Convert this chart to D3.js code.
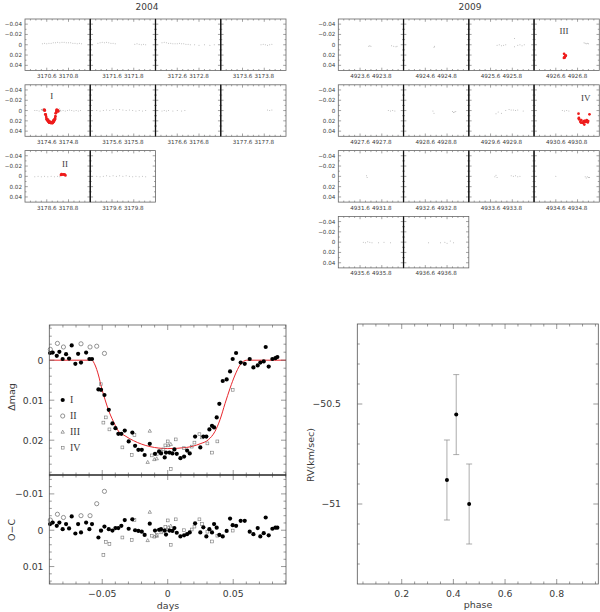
<!DOCTYPE html>
<html><head><meta charset="utf-8">
<script src="https://cdn.jsdelivr.net/npm/d3@7"></script>
<style>body{margin:0;background:#fff}</style></head>
<body><svg id="c" width="600" height="612"></svg>
<script>
// ---------- DATA ----------
const days2004 = [3170,3171,3172,3173,3174,3175,3176,3177,3178,3179];
const days2009 = [4923,4924,4925,4926,4927,4928,4929,4930,4931,4932,4933,4934,4935,4936];
// gray out-of-transit points per night: [fraction of day, delta mag]
const gray2004 = [
 [[.56,-.002],[.58,-.003],[.60,-.002],[.62,-.003],[.64,-.003],[.66,-.004],[.68,-.004],[.70,-.005],[.72,-.004],[.74,-.005],[.76,-.005],[.78,-.004],[.80,-.004],[.82,-.004],[.84,-.003],[.86,-.003],[.88,-.002],[.90,-.003],[.92,-.002]],
 [[.47,-.003],[.49,-.004],[.51,-.005],[.53,-.004],[.55,-.005],[.57,-.004],[.59,-.003],[.61,-.003],[.63,-.002],[.81,-.001],[.83,-.002],[.85,-.001],[.87,0],[.89,-.001],[.91,0]],
 [[.46,-.004],[.48,-.005],[.50,-.004],[.52,-.003],[.54,-.003],[.56,-.002],[.58,-.002],[.60,-.002],[.62,-.003],[.64,-.002],[.66,-.002],[.68,-.001],[.70,-.001],[.72,0],[.76,0],[.80,.001],[.85,0],[.90,.001],[.94,0]],
 [[.77,0],[.79,-.001],[.81,0],[.83,.001],[.85,0],[.87,-.001]],
 [[.49,0],[.51,0],[.53,.001],[.73,.001],[.75,0],[.77,.001],[.79,0],[.81,-.001],[.83,0],[.85,.001],[.87,0],[.89,.001],[.91,0]],
 [[.46,0],[.49,.001],[.52,0],[.55,-.001],[.58,0],[.61,-.002],[.64,-.001],[.67,-.002],[.70,-.001],[.73,0],[.76,-.001],[.79,0],[.82,.001],[.85,0],[.88,.001],[.91,0]],
 [[.46,.001],[.48,0],[.50,.001],[.52,0],[.56,.001],[.60,0],[.64,.001],[.67,0]],
 [[.83,-.001],[.85,0],[.87,-.001]],
 [[.49,.001],[.52,0],[.55,.001],[.58,0],[.61,.001],[.64,0],[.67,.001],[.70,0],[.72,.001]],
 [[.46,0],[.49,.001],[.52,0],[.55,-.001],[.58,0],[.61,-.001],[.64,0],[.67,-.001],[.70,0],[.73,-.001],[.76,0],[.79,.001],[.82,0],[.85,.001],[.88,0],[.91,.001]]
];
const gray2009 = [
 [[.68,.003],[.69,.002],[.70,.003],[.89,.002],[.91,.003],[.93,.004],[.94,.003]],
 [[.68,.005],[.685,.003]],
 [[.66,.001],[.68,0],[.70,.002],[.72,.001],[.74,0],[.82,-.012],[.82,.004],[.85,.001],[.87,0],[.89,.002],[.91,0]],
 [[.86,-.004],[.87,-.003],[.88,-.002],[.89,-.003],[.90,-.002]],
 [[.86,0],[.88,.001],[.90,0],[.92,.001]],
 [[.67,.001],[.68,.005],[.85,.002],[.86,.004],[.87,.003],[.88,.002]],
 [[.65,.006],[.67,.003],[.70,.005],[.74,0],[.77,-.002],[.79,-.001],[.81,-.001],[.83,0],[.85,-.001],[.90,.001]],
 [[.66,0],[.68,.001],[.70,0],[.72,.001]],
 [[.66,-.001],[.665,.002]],
 [],
 [[.64,.001],[.65,-.002],[.66,.002],[.79,-.001],[.81,0],[.83,-.001],[.85,.001],[.87,0]],
 [[.60,0],[.87,.001],[.88,.003],[.89,.001],[.90,.002],[.91,.002]],
 [[.63,0],[.65,.001],[.67,-.001],[.69,0],[.71,.001],[.77,.001],[.82,0],[.88,.001]],
 [[.63,.001],[.74,.001],[.78,0],[.80,.002],[.83,-.002],[.86,.001]]
];
// transit events: label, mid-time (HJD-2450000), half-width of the red-highlighted window (days)
const eventLabels = ["I","II","III","IV"];
const eventMid = [3174.64, 3178.82, 4926.69, 4930.86];
const eventWin = [0.066, 0.1, 0.1, 0.1];

// folded light curves (days from mid-transit, delta mag, O-C)
const lcT_I = [-0.0898,-0.0878,-0.0847,-0.0827,-0.0802,-0.0776,-0.0753,-0.0733,-0.0705,-0.0684,
 -0.0662,-0.0623,-0.0598,-0.0578,-0.0529,-0.0509,-0.0483,-0.0450,-0.0422,-0.0399,
 -0.0377,-0.0354,-0.0328,-0.0298,-0.0270,-0.0249,-0.0224,-0.0198,-0.0176,-0.0137,
 -0.0097,-0.0066,-0.0051,-0.0023,-0.0013,0.0013,0.0036,0.0051,0.0069,0.0097,
 0.0125,0.0148,0.0168,0.0209,0.0249,0.0272,0.0295,0.0318,0.0338,0.0354,
 0.0374,0.0394,0.0420,0.0450,0.0476,0.0496,0.0522,0.0557,0.0588,0.0626,
 0.0654,0.0687,0.0707,0.0733,0.0748,0.0771,0.0799,0.0822,0.0837];
const lcM_I = [-0.0018,-0.0019,-0.0011,-0.0021,-0.0003,-0.0015,-0.0004,-0.0037,0.0009,-0.0016,
 0.0006,-0.0019,-0.0003,-0.0003,0.0073,0.0074,0.0087,0.0124,0.0158,0.0170,
 0.0184,0.0184,0.0176,0.0203,0.0181,0.0214,0.0224,0.0224,0.0237,0.0209,
 0.0234,0.0228,0.0233,0.0243,0.0231,0.0231,0.0233,0.0223,0.0234,0.0245,
 0.0241,0.0226,0.0233,0.0191,0.0218,0.0191,0.0191,0.0173,0.0164,0.0168,
 0.0143,0.0109,0.0052,0.0048,0.0028,-0.0003,-0.0018,0.0006,0.0009,-0.0003,
 0.0018,0.0013,0.0006,0.0003,-0.0033,0.0016,-0.0003,-0.0005,-0.0008];
const ocM_I = [-0.0017,-0.0021,-0.0012,-0.0021,-0.0003,-0.0017,-0.0005,-0.0038,0.0009,-0.0017,
 0.0006,-0.0021,-0.0003,-0.0017,0.0020,0.0001,-0.0010,-0.0003,0.0001,-0.0006,
 -0.0006,-0.0012,-0.0028,-0.0004,-0.0030,0.0000,0.0002,0.0004,0.0013,-0.0018,
 0.0001,-0.0001,-0.0003,0.0001,0.0012,0.0001,0.0002,-0.0006,0.0007,0.0017,
 0.0014,0.0011,0.0006,-0.0019,0.0006,-0.0008,0.0017,-0.0003,0.0006,-0.0017,
 -0.0007,0.0013,0.0017,0.0002,-0.0032,-0.0014,-0.0012,-0.0026,-0.0026,0.0004,
 0.0011,-0.0006,0.0017,0.0008,-0.0035,0.0014,-0.0004,-0.0007,-0.0007];
const lcT_II = [-0.0896,-0.0842,-0.0796,-0.0662,-0.0593,-0.0542,-0.0483];
const lcM_II = [-0.0027,-0.0042,-0.0033,-0.0041,-0.0033,-0.0035,-0.0017];
const ocM_II = [-0.0028,-0.0044,-0.0035,-0.0040,-0.0040,-0.0073,-0.0107];
const lcT_III = [-0.0153,-0.0137,-0.0102,-0.0084,-0.0050,0.0005,0.0023];
const lcM_III = [0.0255,0.0177,0.0248,0.0246,0.0228,0.0213,0.0210];
const ocM_III = [0.0028,-0.0050,0.0018,0.0016,0.0006,-0.0008,-0.0012];
const lcT_IV = [-0.0511,-0.0491,-0.0473,-0.0445,-0.0346,-0.0275,-0.0254,-0.0122,-0.0084,-0.0033,
 -0.0018,0.0000,0.0023,0.0061,0.0125,0.0183,0.0204,0.0242,0.0262,0.0303,0.0338,0.0379,0.0496];
const lcM_IV = [0.0060,0.0156,0.0143,0.0173,0.0218,0.0237,0.0187,0.0238,0.0235,0.0223,
 0.0213,0.0203,0.0272,0.0198,0.0220,0.0216,0.0206,0.0185,0.0193,0.0208,0.0231,0.0203,0.0074];
const ocM_IV = [0.0001,0.0068,0.0032,0.0038,0.0020,0.0027,-0.0028,0.0015,0.0013,0.0001,
 -0.0009,-0.0027,0.0040,-0.0030,0.0000,-0.0002,-0.0010,-0.0030,-0.0017,0.0004,0.0031,0.0015,0.0001];
// transit model
const modelT = [-0.0904,-0.058,-0.0555,-0.0529,-0.0504,-0.0478,-0.0453,-0.0415,-0.0377,-0.0326,-0.0262,-0.0135,0,
 0.0145,0.0247,0.031,0.0361,0.0399,0.0438,0.0476,0.0514,0.0552,0.0603,0.0903];
const modelM = [0,0,0.0012,0.0037,0.0070,0.0099,0.0124,0.0153,0.0177,0.0189,0.0201,0.0216,0.0221,
 0.0218,0.0209,0.0199,0.0178,0.0149,0.0108,0.0070,0.0037,0.0012,0,0];
// radial velocities
const rvPhase = [0.375, 0.411, 0.461];
const rvVal = [-50.88, -50.553, -51.0];
const rvErr = [0.2, 0.2, 0.2];

// ---------- DRAWING ----------
const svg = d3.select('#c');
const FONT = 'DejaVu Sans', SERIF = 'Liberation Serif';
const TXT = '#3a3a3a', FRAME = '#555';

function ticks4(g, x, y, xMaj, xMin, yMaj, yMin, L, l, col) {
  const [xa, xb] = x.range(); const xl = Math.min(xa,xb), xr = Math.max(xa,xb);
  const [ya, yb] = y.range(); const yt = Math.min(ya,yb), ybm = Math.max(ya,yb);
  const seg = [];
  xMaj.forEach(v => { seg.push([x(v), ybm, x(v), ybm - L]); seg.push([x(v), yt, x(v), yt + L]); });
  xMin.forEach(v => { seg.push([x(v), ybm, x(v), ybm - l]); seg.push([x(v), yt, x(v), yt + l]); });
  yMaj.forEach(v => { seg.push([xl, y(v), xl + L, y(v)]); seg.push([xr, y(v), xr - L, y(v)]); });
  yMin.forEach(v => { seg.push([xl, y(v), xl + l, y(v)]); seg.push([xr, y(v), xr - l, y(v)]); });
  g.append('g').selectAll('line').data(seg).join('line')
    .attr('x1', d => d[0]).attr('y1', d => d[1]).attr('x2', d => d[2]).attr('y2', d => d[3])
    .attr('stroke', col || FRAME).attr('stroke-width', 0.6);
  g.append('rect').attr('x', xl).attr('y', yt).attr('width', xr - xl).attr('height', ybm - yt)
    .attr('fill', 'none').attr('stroke', col || FRAME).attr('stroke-width', 0.8);
}
const rng = (a, b, s) => d3.range(Math.round((b - a) / s) + 1).map(i => +(a + i * s).toFixed(6));

// ---- top grids ----
const PW = 65.25, PH = 51.5, ROWSTEP = 65.8;
function topGrid(x0, days, grays, year, yearX) {
  svg.append('text').attr('x', yearX).attr('y', 9.5).attr('text-anchor', 'middle')
    .attr('font-family', FONT).attr('font-size', 9).attr('fill', TXT).text(year);
  days.forEach((day, i) => {
    const col = i % 4, row = Math.floor(i / 4);
    const left = x0 + col * PW, top = 19 + row * ROWSTEP;
    const x = d3.scaleLinear().domain([day + 0.4, day + 1.0]).range([left, left + PW]);
    const y = d3.scaleLinear().domain([-0.05, 0.05]).range([top, top + PH]);
    const g = svg.append('g');
    g.selectAll('circle.g').data(grays[i]).join('circle')
      .attr('cx', d => x(day + d[0])).attr('cy', d => y(d[1])).attr('r', 0.5).attr('fill', '#b0b0b0');
    eventMid.forEach((tc, k) => {
      if (Math.floor(tc) !== day) return;
      const T = [lcT_I, lcT_II, lcT_III, lcT_IV][k], M = [lcM_I, lcM_II, lcM_III, lcM_IV][k];
      const pts = T.map((t, j) => [t, M[j]]);
      g.selectAll('circle.o' + k).data(pts.filter(d => Math.abs(d[0]) > eventWin[k])).join('circle')
        .attr('cx', d => x(tc + d[0])).attr('cy', d => y(d[1])).attr('r', 0.5).attr('fill', '#b0b0b0');
      g.selectAll('circle.r' + k).data(pts.filter(d => Math.abs(d[0]) <= eventWin[k])).join('circle')
        .attr('cx', d => x(tc + d[0])).attr('cy', d => y(d[1])).attr('r', 1.35).attr('fill', '#ee1c1c');
      const lx = [51.7 - 25, 65 - 25, 563.3 - 533.3, 585 - 533.3][k];
      g.append('text').attr('x', left + lx).attr('y', top + (k % 2 ? 16 : 14.5)).attr('text-anchor', 'middle')
        .attr('font-family', SERIF).attr('font-size', 9).attr('fill', TXT).text(eventLabels[k]);
    });
    ticks4(g, x, y, [day + 0.6, day + 0.8], rng(day + 0.45, day + 0.95, 0.05).filter(v => Math.abs(v - day - 0.6) > 1e-6 && Math.abs(v - day - 0.8) > 1e-6),
      [-0.04, -0.02, 0, 0.02, 0.04], [-0.03, -0.01, 0.01, 0.03], 2.8, 1.5, '#666');
    [0.6, 0.8].forEach(f => g.append('text').attr('x', x(day + f)).attr('y', top + PH + 7.5)
      .attr('text-anchor', 'middle').attr('font-family', FONT).attr('font-size', 5.6).attr('fill', TXT)
      .text((day + f).toFixed(1)));
    if (col === 0) {
      [-0.04, -0.02, 0, 0.02, 0.04].forEach(v => g.append('text').attr('x', left - 3).attr('y', y(v) + 2)
        .attr('text-anchor', 'end').attr('font-family', FONT).attr('font-size', 5.6).attr('fill', TXT)
        .text(v === 0 ? '0' : (v < 0 ? '\u22120' + (-v).toFixed(2).slice(1) : v.toFixed(2))));
    }
  });
  days.forEach((day, i) => {
    const col = i % 4, row = Math.floor(i / 4);
    if (col === 0) return;
    const left = x0 + col * PW, top = 19 + row * ROWSTEP;
    svg.append('line').attr('x1', left).attr('x2', left).attr('y1', top).attr('y2', top + PH)
      .attr('stroke', '#111').attr('stroke-width', 1.3);
  });
}
topGrid(25, days2004, gray2004, '2004', 147);
topGrid(338.3, days2009, gray2009, '2009', 470);

// ---- bottom-left light curve ----
const xL = d3.scaleLinear().domain([-0.0904, 0.0903]).range([49.3, 286]);
const yLC = d3.scaleLinear().domain([-0.0088, 0.0287]).range([325, 475]);
const yOC = d3.scaleLinear().domain([-0.0152, 0.0148]).range([475, 584]);
const gLC = svg.append('g'), gOC = svg.append('g');

function symbols(g, T, V, y, kind) {
  const data = T.map((t, i) => [xL(t), y(V[i])]);
  if (kind === 'filled') g.append('g').selectAll('circle').data(data).join('circle')
    .attr('cx', d => d[0]).attr('cy', d => d[1]).attr('r', 2.1).attr('fill', '#000');
  if (kind === 'open') g.append('g').selectAll('circle').data(data).join('circle')
    .attr('cx', d => d[0]).attr('cy', d => d[1]).attr('r', 2.1).attr('fill', 'none').attr('stroke', '#666').attr('stroke-width', 0.7);
  if (kind === 'tri') g.append('g').selectAll('path').data(data).join('path')
    .attr('d', d => `M${d[0]},${d[1] - 1.8}L${d[0] + 1.7},${d[1] + 1.2}L${d[0] - 1.7},${d[1] + 1.2}Z`)
    .attr('fill', 'none').attr('stroke', '#666').attr('stroke-width', 0.6);
  if (kind === 'sq') g.append('g').selectAll('rect').data(data).join('rect')
    .attr('x', d => d[0] - 1.4).attr('y', d => d[1] - 1.4).attr('width', 2.8).attr('height', 2.8)
    .attr('fill', 'none').attr('stroke', '#777').attr('stroke-width', 0.6);
}
gLC.append('path').datum(modelT.map((t, i) => [t, modelM[i]]))
  .attr('d', d3.line().x(d => xL(d[0])).y(d => yLC(d[1])).curve(d3.curveMonotoneX))
  .attr('fill', 'none').attr('stroke', '#e8262c').attr('stroke-width', 1);
symbols(gLC, lcT_IV, lcM_IV, yLC, 'sq');
symbols(gLC, lcT_III, lcM_III, yLC, 'tri');
symbols(gLC, lcT_II, lcM_II, yLC, 'open');
symbols(gLC, lcT_I, lcM_I, yLC, 'filled');
symbols(gOC, lcT_IV, ocM_IV, yOC, 'sq');
symbols(gOC, lcT_III, ocM_III, yOC, 'tri');
symbols(gOC, lcT_II, ocM_II, yOC, 'open');
symbols(gOC, lcT_I, ocM_I, yOC, 'filled');

const xMajL = [-0.05, 0, 0.05], xMinL = rng(-0.09, 0.09, 0.01).filter(v => Math.abs(v % 0.05) > 1e-6);
ticks4(gLC, xL, yLC, xMajL, xMinL, [0, 0.01, 0.02], rng(-0.008, 0.028, 0.002).filter(v => Math.abs(Math.round(v * 100) - v * 100) > 1e-6), 5, 2.5);
ticks4(gOC, xL, yOC, xMajL, xMinL, [-0.01, 0, 0.01], rng(-0.014, 0.014, 0.002).filter(v => Math.abs(Math.round(v * 100) - v * 100) > 1e-6), 5, 2.5);
svg.append('line').attr('x1', 49.3).attr('x2', 286).attr('y1', 475).attr('y2', 475).attr('stroke', '#222').attr('stroke-width', 1);

const lab = (x, y, t, anchor, size, rot, fam) => {
  const e = svg.append('text').attr('x', x).attr('y', y).attr('text-anchor', anchor || 'middle')
    .attr('font-family', fam || FONT).attr('font-size', size || 9.3).attr('fill', TXT).text(t);
  if (rot) e.attr('transform', `rotate(-90,${x},${y})`);
  return e;
};
[[0, '0'], [0.01, '0.01'], [0.02, '0.02']].forEach(([v, t]) => lab(43.5, yLC(v) + 3.3, t, 'end'));
[[-0.01, '\u22120.01'], [0, '0'], [0.01, '0.01']].forEach(([v, t]) => lab(43.5, yOC(v) + 3.3, t, 'end'));
[[-0.05, '\u22120.05'], [0, '0'], [0.05, '0.05']].forEach(([v, t]) => lab(xL(v), 596.5, t));
lab(168, 609, 'days', 'middle', 9.5);
lab(15, 397, '\u0394mag', 'middle', 9.5, true);
lab(15, 530, 'O\u2212C', 'middle', 9.5, true);
const legY = [400, 416, 432, 447.7];
const legX = 62.7;
svg.append('circle').attr('cx', legX).attr('cy', legY[0]).attr('r', 2.1).attr('fill', '#000');
svg.append('circle').attr('cx', legX).attr('cy', legY[1]).attr('r', 2.1).attr('fill', 'none').attr('stroke', '#666').attr('stroke-width', 0.7);
svg.append('path').attr('d', `M${legX},${legY[2] - 1.8}L${legX + 1.7},${legY[2] + 1.2}L${legX - 1.7},${legY[2] + 1.2}Z`).attr('fill', 'none').attr('stroke', '#666').attr('stroke-width', 0.6);
svg.append('rect').attr('x', legX - 1.4).attr('y', legY[3] - 1.4).attr('width', 2.8).attr('height', 2.8).attr('fill', 'none').attr('stroke', '#777').attr('stroke-width', 0.6);
eventLabels.forEach((t, i) => lab(70, legY[i] + 3.3, t, 'start', 10, false, SERIF));

// ---- RV panel ----
const xR = d3.scaleLinear().domain([0.028, 0.961]).range([357.3, 598.3]);
const yR = d3.scaleLinear().domain([-51.4, -50.1]).range([584, 324]);
const gR = svg.append('g');
const rv = rvPhase.map((p, i) => ({p, v: rvVal[i], e: rvErr[i]}));
gR.append('g').selectAll('g').data(rv).join('g').each(function(d) {
  const s = d3.select(this), cx = xR(d.p);
  s.append('line').attr('x1', cx).attr('x2', cx).attr('y1', yR(d.v + d.e)).attr('y2', yR(d.v - d.e)).attr('stroke', '#888').attr('stroke-width', 0.7);
  [d.v + d.e, d.v - d.e].forEach(v => s.append('line').attr('x1', cx - 3).attr('x2', cx + 3).attr('y1', yR(v)).attr('y2', yR(v)).attr('stroke', '#888').attr('stroke-width', 0.7));
  s.append('circle').attr('cx', cx).attr('cy', yR(d.v)).attr('r', 2).attr('fill', '#000');
});
ticks4(gR, xR, yR, [0.2, 0.4, 0.6, 0.8], rng(0.05, 0.95, 0.05).filter(v => Math.abs(Math.round(v * 5) - v * 5) > 1e-6),
  [-51, -50.5], rng(-51.3, -50.2, 0.1).filter(v => Math.abs(Math.round(v * 2) - v * 2) > 1e-6), 5, 2.5);
[0.2, 0.4, 0.6, 0.8].forEach(v => lab(xR(v), 596.5, v.toFixed(1)));
[[-50.5, '\u221250.5'], [-51, '\u221251']].forEach(([v, t]) => lab(341, yR(v) + 3.3, t, 'end'));
lab(478, 608, 'phase', 'middle', 9.5);
lab(314, 455, 'RV(km/sec)', 'middle', 9.5, true);
</script></body></html>
